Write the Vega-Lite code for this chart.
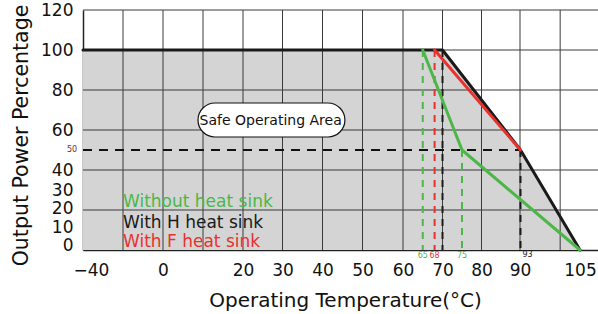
{
  "$schema": "https://vega.github.io/schema/vega-lite/v6.json",
  "width": 515,
  "height": 240,
  "autosize": {"type": "none"},
  "padding": {"left": 83, "top": 10, "right": 0, "bottom": 64},
  "background": "white",
  "config": {"view": {"stroke": null}, "font": "DejaVu Sans", "axis": {"labelOverlap": false}, "axisY": {"labelOverlap": false}},
  "resolve": {"axis": {"x": "independent", "y": "independent"}},
  "datasets": {
    "curves": [
      {"series": "With H heat sink", "t": -40, "p": 100},
      {"series": "With H heat sink", "t": 70, "p": 100},
      {"series": "With H heat sink", "t": 93, "p": 50},
      {"series": "With H heat sink", "t": 105, "p": 0},
      {"series": "With F heat sink", "t": 68, "p": 100},
      {"series": "With F heat sink", "t": 93, "p": 50},
      {"series": "Without heat sink", "t": 65, "p": 100},
      {"series": "Without heat sink", "t": 75, "p": 50},
      {"series": "Without heat sink", "t": 105, "p": 0}
    ],
    "vgrid": [{"t": -20}, {"t": 0}, {"t": 10}, {"t": 20}, {"t": 30}, {"t": 40}, {"t": 50}, {"t": 60}, {"t": 70}, {"t": 80}, {"t": 90}, {"t": 101}],
    "hgrid": [{"p": 20}, {"p": 40}, {"p": 60}, {"p": 80}, {"p": 100}, {"p": 120}],
    "guides": [
      {"series": "Without heat sink", "t": 65, "p": 100, "label": "65"},
      {"series": "With F heat sink", "t": 68, "p": 100, "label": "68"},
      {"series": "With H heat sink", "t": 70, "p": 100, "label": ""},
      {"series": "Without heat sink", "t": 75, "p": 50, "label": "75"},
      {"series": "With H heat sink", "t": 93, "p": 50, "label": "93"}
    ],
    "hguide": [{"t0": -40, "t1": 93, "p": 50, "label": "50"}],
    "box": [{"t0": 8.75, "t1": 45.6, "p0": 56.5, "p1": 73.5, "tc": 27, "pc": 64.5, "label": "Safe Operating Area"}],
    "legendText": [
      {"series": "Without heat sink", "t": -20, "p": 24},
      {"series": "With H heat sink", "t": -20, "p": 13.5},
      {"series": "With F heat sink", "t": -20, "p": 4}
    ]
  },
  "layer": [
    {
      "data": {"name": "curves"},
      "transform": [{"filter": "datum.series === 'With H heat sink'"}],
      "mark": {"type": "area", "color": "#d4d4d4", "opacity": 1},
      "encoding": {
        "x": {
          "field": "t", "type": "quantitative",
          "scale": {
            "domain": [-40, 0, 20, 30, 40, 50, 60, 70, 80, 90, 93, 105, 108.6],
            "range": [0, 80, 160, 199.5, 239.5, 279.5, 320, 359.5, 398.5, 437, 437.5, 497, 515],
            "nice": false, "zero": false
          },
          "axis": {
            "values": [-40, 0, 20, 30, 40, 50, 60, 70, 80, 90, 105],
            "grid": false, "ticks": false,
            "domainColor": "#222", "domainWidth": 1.5,
            "labelFontSize": 17, "labelColor": "#111", "labelPadding": 12,
            "labelFlush": true, "labelFlushOffset": 10, "labelOverlap": false,
            "title": "Operating Temperature(°C)",
            "titleFontSize": 20, "titleFontWeight": "normal", "titleColor": "#111",
            "titleX": 262, "titleY": 56, "titleBaseline": "alphabetic"
          }
        },
        "y": {
          "field": "p", "type": "quantitative",
          "scale": {"domain": [0, 120], "nice": false},
          "axis": {
            "values": [0, 10, 20, 30, 40, 60, 80, 100, 120],
            "grid": false, "ticks": false,
            "domainColor": "#222", "domainWidth": 1.5,
            "labelFontSize": 17, "labelColor": "#111", "labelPadding": 10,
            "labelOverlap": false, "labelFlush": false, "labelBound": false,
            "labelOffset": {
              "condition": [
                {"test": "datum.value === 0", "value": -5},
                {"test": "datum.value === 10", "value": -3},
                {"test": "datum.value === 20", "value": -2}
              ],
              "value": 0
            },
            "title": "Output Power Percentage",
            "titleFontSize": 20.5, "titleFontWeight": "normal", "titleColor": "#111",
            "titleX": -56, "titleY": 125, "titleBaseline": "alphabetic", "titleAngle": 270
          }
        }
      }
    },
    {
      "data": {"name": "vgrid"},
      "mark": {"type": "rule", "color": "#3a3a3a", "strokeWidth": 1},
      "encoding": {"x": {"field": "t", "type": "quantitative", "axis": null}}
    },
    {
      "data": {"name": "hgrid"},
      "mark": {"type": "rule", "color": "#3a3a3a", "strokeWidth": 1},
      "encoding": {"y": {"field": "p", "type": "quantitative", "axis": null}}
    },
    {
      "data": {"name": "hguide"},
      "mark": {"type": "rule", "color": "#111", "strokeWidth": 1.8, "strokeDash": [9, 7]},
      "encoding": {
        "x": {"field": "t0", "type": "quantitative", "axis": null},
        "x2": {"field": "t1"},
        "y": {"field": "p", "type": "quantitative", "axis": null}
      }
    },
    {
      "data": {"name": "hguide"},
      "mark": {"type": "text", "fontSize": 8, "color": "#6b2b2b", "align": "center", "baseline": "middle", "dx": -11},
      "encoding": {
        "x": {"field": "t0", "type": "quantitative", "axis": null},
        "y": {"field": "p", "type": "quantitative", "axis": null},
        "text": {"field": "label"}
      }
    },
    {
      "data": {"name": "guides"},
      "mark": {"type": "rule", "strokeWidth": 2, "strokeDash": [7, 6]},
      "encoding": {
        "x": {"field": "t", "type": "quantitative", "axis": null},
        "y": {"field": "p", "type": "quantitative", "axis": null},
        "y2": {"datum": 0},
        "color": {
          "field": "series", "type": "nominal",
          "scale": {"domain": ["Without heat sink", "With H heat sink", "With F heat sink"], "range": ["#4cb748", "#1a1a1a", "#e8322e"]},
          "legend": null
        }
      }
    },
    {
      "data": {"name": "guides"},
      "transform": [{"filter": "datum.label !== '93'"}],
      "mark": {"type": "text", "fontSize": 8, "align": "center", "baseline": "middle"},
      "encoding": {
        "x": {"field": "t", "type": "quantitative", "axis": null},
        "y": {"datum": -2.8, "axis": null},
        "text": {"field": "label"},
        "color": {"field": "series", "type": "nominal", "legend": null}
      }
    },
    {
      "data": {"name": "guides"},
      "transform": [{"filter": "datum.label === '93'"}],
      "mark": {"type": "text", "fontSize": 8, "align": "center", "baseline": "middle", "dx": 7, "dy": -1},
      "encoding": {
        "x": {"field": "t", "type": "quantitative", "axis": null},
        "y": {"datum": -2.8, "axis": null},
        "text": {"field": "label"},
        "color": {"field": "series", "type": "nominal", "legend": null}
      }
    },
    {
      "data": {"name": "curves"},
      "mark": {"type": "line", "strokeWidth": 3, "strokeCap": "round", "strokeJoin": "round"},
      "encoding": {
        "x": {"field": "t", "type": "quantitative", "axis": null},
        "y": {"field": "p", "type": "quantitative", "axis": null},
        "color": {"field": "series", "type": "nominal", "legend": null},
        "order": {"field": "t"}
      }
    },
    {
      "data": {"name": "box"},
      "mark": {"type": "rect", "fill": "white", "stroke": "#111", "strokeWidth": 1.2, "cornerRadius": 17},
      "encoding": {
        "x": {"field": "t0", "type": "quantitative", "axis": null},
        "x2": {"field": "t1"},
        "y": {"field": "p0", "type": "quantitative", "axis": null},
        "y2": {"field": "p1"}
      }
    },
    {
      "data": {"name": "box"},
      "mark": {"type": "text", "fontSize": 14, "color": "#111", "align": "center", "baseline": "middle"},
      "encoding": {
        "x": {"field": "tc", "type": "quantitative", "axis": null},
        "y": {"field": "pc", "type": "quantitative", "axis": null},
        "text": {"field": "label"}
      }
    },
    {
      "data": {"name": "legendText"},
      "mark": {"type": "text", "fontSize": 17, "align": "left", "baseline": "middle"},
      "encoding": {
        "x": {"field": "t", "type": "quantitative", "axis": null},
        "y": {"field": "p", "type": "quantitative", "axis": null},
        "text": {"field": "series"},
        "color": {"field": "series", "type": "nominal", "legend": null}
      }
    }
  ]
}
